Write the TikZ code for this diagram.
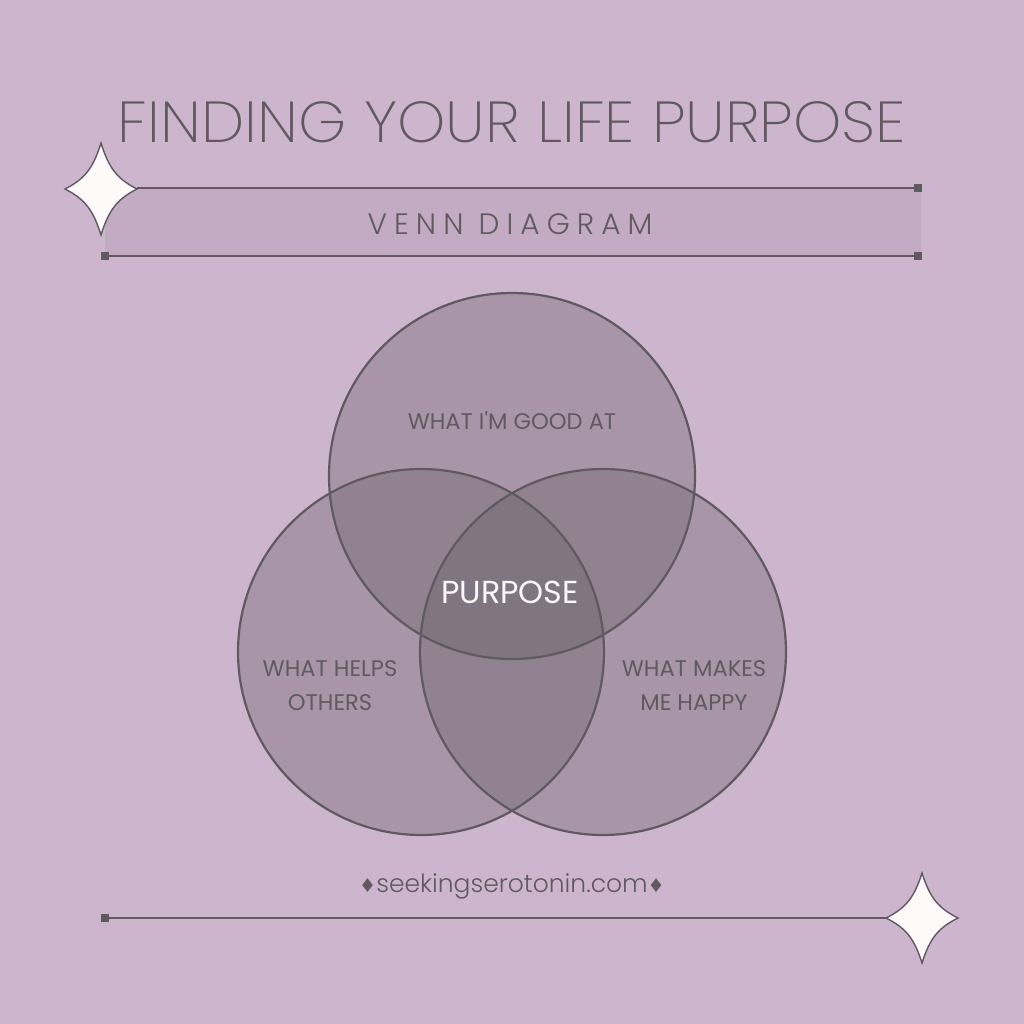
\documentclass[tikz,border=0pt]{standalone}
\usepackage{fontspec}
\setmainfont{Poppins}
\newfontfamily\regfont{Poppins}
\IfFontExistsTF{Poppins Light}{\newfontfamily\lightfont{Poppins Light}}{\newfontfamily\lightfont{Poppins}}
\IfFontExistsTF{Poppins Light}{\newfontfamily\spacedfont{Poppins Light}[LetterSpace=24]}{\newfontfamily\spacedfont{Poppins}[LetterSpace=24]}
\IfFontExistsTF{Poppins ExtraLight}{\newfontfamily\titlefont{Poppins ExtraLight}}{\newfontfamily\titlefont{Poppins}}
\newfontfamily\dejavu{DejaVu Sans}
\definecolor{bg}{RGB}{205,181,205}
\definecolor{band}{RGB}{195,171,195}
\definecolor{ink}{RGB}{95,90,96}
\definecolor{starfill}{RGB}{253,250,249}
\definecolor{venn}{RGB}{107,97,107}
\tikzset{
  rule/.style={draw=ink, line width=2.4pt},
  endsq/.style={fill=ink, minimum size=8pt, inner sep=0pt, draw=none},
  sparkle/.style={draw=ink, line width=1.4pt, fill=starfill},
  vennfill/.style={fill=venn, fill opacity=0.37, draw=none},
  vennline/.style={draw=ink, line width=2.2pt},
  lab/.style={text=ink, anchor=base, inner sep=0pt, align=center, font=\regfont\fontsize{22.6}{34}\selectfont},
}
\begin{document}
\begin{tikzpicture}[x=1pt,y=-1pt]
\useasboundingbox (0,0) rectangle (1024,1024);
\fill[bg] (0,0) rectangle (1024,1024);
% title
\node[inner sep=0pt, text=ink] (title) at (512,122.5) {\resizebox{788pt}{41pt}{\titlefont FINDING YOUR LIFE PURPOSE}};
% banner
\fill[band] (105,188) rectangle (921,256);
\coordinate (starLtip) at (137,188);
\node[endsq] (sqTR) at (918,188) {};
\node[endsq] (sqBR) at (918,256) {};
\node[endsq] (sqBL) at (105,256) {};
\draw[rule] (starLtip) -- (sqTR.center);
\draw[rule] (sqBL.center) -- (sqBR.center);
\node[text=ink, anchor=base, inner sep=0pt, font=\spacedfont\fontsize{29.5}{34}\selectfont] (venntitle) at (510,235) {VENN DIAGRAM};
% left star
\begin{scope}[shift={(101,189)}]
\draw[sparkle] (0,-46) .. controls (7.9,-20.7) and (16.2,-10.1) .. (36,0)
  .. controls (16.2,10.1) and (7.9,20.7) .. (0,46)
  .. controls (-7.9,20.7) and (-16.2,10.1) .. (-36,0)
  .. controls (-16.2,-10.1) and (-7.9,-20.7) .. (0,-46) -- cycle;
\end{scope}
% venn circles
\coordinate (cTop) at (512,476);
\coordinate (cLeft) at (421,652);
\coordinate (cRight) at (603,652);
\fill[vennfill] (cTop) circle (183);
\fill[vennfill] (cLeft) circle (183);
\fill[vennfill] (cRight) circle (183);
\draw[vennline] (cTop) circle (183);
\draw[vennline] (cLeft) circle (183);
\draw[vennline] (cRight) circle (183);
\node[lab] (good) at (512,429) {WHAT I'M GOOD AT};
\node[lab] (helps) at (330,710) {WHAT HELPS\\OTHERS};
\node[lab] (happy) at (694,710) {WHAT MAKES\\ME HAPPY};
\node[text=starfill, anchor=base, inner sep=0pt, font=\regfont\fontsize{31.8}{34}\selectfont] (purpose) at (510,603) {PURPOSE};
% footer
\node[text=ink, anchor=base, inner sep=0pt, font=\lightfont\fontsize{25}{30}\selectfont] (site) at (512,892) {{\dejavu\fontsize{19}{20}\selectfont ♦}seekingserotonin.com{\dejavu\fontsize{19}{20}\selectfont ♦}};
\node[endsq] (sqF) at (105,918) {};
\coordinate (starRtip) at (886,918);
\draw[rule] (sqF.center) -- (starRtip);
\begin{scope}[shift={(922,918)}]
\draw[sparkle] (0,-45) .. controls (7.9,-20.2) and (16.2,-9.9) .. (36,0)
  .. controls (16.2,9.9) and (7.9,20.2) .. (0,45)
  .. controls (-7.9,20.2) and (-16.2,9.9) .. (-36,0)
  .. controls (-16.2,-9.9) and (-7.9,-20.2) .. (0,-45) -- cycle;
\end{scope}
\end{tikzpicture}
\end{document}
